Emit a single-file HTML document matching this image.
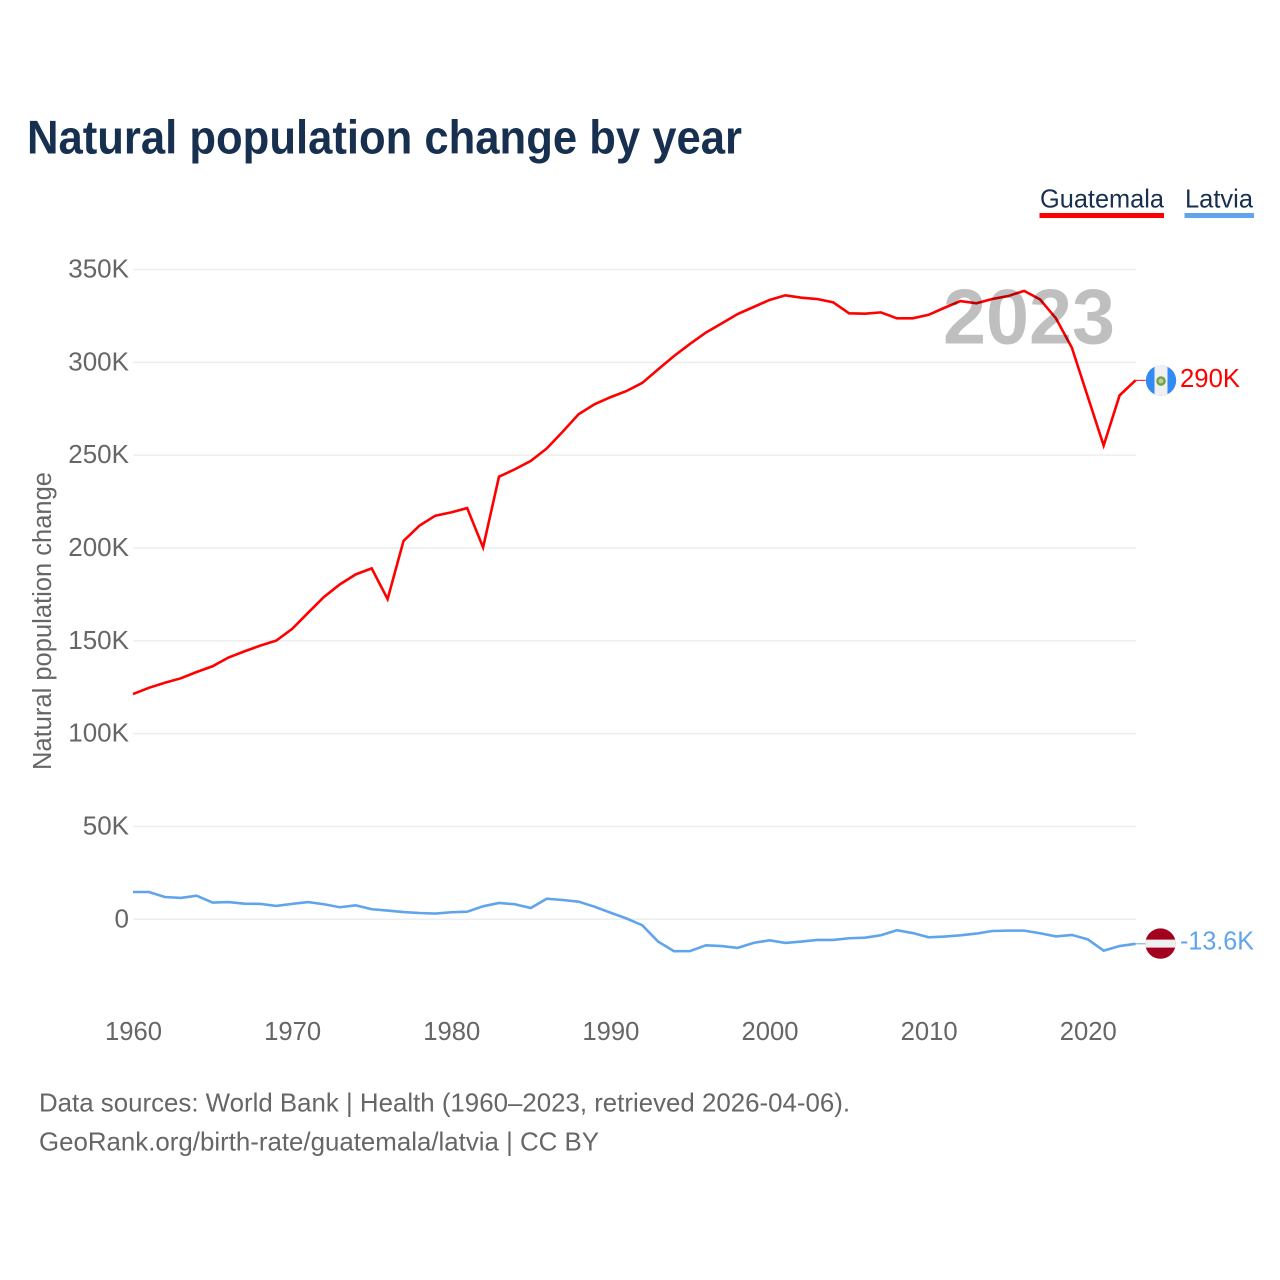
<!DOCTYPE html>
<html lang="en">
<head>
<meta charset="utf-8">
<title>Natural population change by year</title>
<style>
html,body{margin:0;padding:0;background:#fff;width:1280px;height:1280px;overflow:hidden}
svg{display:block}
text{font-family:"Liberation Sans",sans-serif}
</style>
</head>
<body>
<svg id="chart" xmlns="http://www.w3.org/2000/svg" width="1280" height="1280" viewBox="0 0 1280 1280">
  <rect width="1280" height="1280" fill="#fff"/>
  <defs>
    <clipPath id="clip-gt"><circle id="clip-gt-circle" r="15.2"/></clipPath>
    <clipPath id="clip-lv"><circle id="clip-lv-circle" r="15.2"/></clipPath>
  </defs>
  <text x="27" y="153.5" font-size="47" font-weight="700" fill="#18304f" textLength="715" lengthAdjust="spacingAndGlyphs">Natural population change by year</text>

  <g>
    <text x="1040" y="207.5" font-size="26" fill="#18304f" textLength="124" lengthAdjust="spacingAndGlyphs">Guatemala</text>
    <rect x="1039.5" y="213" width="124.5" height="5" fill="#ff0000"/>
  </g>
  <g>
    <text x="1185" y="207.5" font-size="26" fill="#18304f" textLength="68" lengthAdjust="spacingAndGlyphs">Latvia</text>
    <rect x="1184.5" y="213" width="69.5" height="5" fill="#60a5ec"/>
  </g>

  <g id="grid"></g>
  <g id="yticks"></g>
  <g id="xticks"></g>
  <text transform="translate(51,621) rotate(-90)" text-anchor="middle" font-size="25.5" fill="#666" textLength="298" lengthAdjust="spacingAndGlyphs">Natural population change</text>

  <g id="series"></g>
  <g id="flags"></g>

  <text x="943" y="343.5" font-size="78" font-weight="700" fill="#000" fill-opacity="0.25" textLength="172" lengthAdjust="spacingAndGlyphs">2023</text>

  <text x="39" y="1111.5" font-size="26" fill="#666" textLength="811" lengthAdjust="spacingAndGlyphs">Data sources: World Bank | Health (1960–2023, retrieved 2026-04-06).</text>
  <text x="39" y="1150.5" font-size="26" fill="#666" textLength="560" lengthAdjust="spacingAndGlyphs">GeoRank.org/birth-rate/guatemala/latvia | CC BY</text>
</svg>
<script>
const firstYear = 1960;
const lastYear = 2023;
const xTickYears = [1960, 1970, 1980, 1990, 2000, 2010, 2020];
const yTickValues = [0, 50, 100, 150, 200, 250, 300, 350];
const yTickLabels = ["0", "50K", "100K", "150K", "200K", "250K", "300K", "350K"];
// Values in thousands, one per year from 1960 to 2023.
const guatemala = [
  121.3,124.7,127.4,129.8,133.2,136.3,141.0,144.3,147.4,150.1,
  156.4,165.1,173.6,180.4,185.8,189.0,172.5,203.8,212.0,217.4,
  219.2,221.5,200.3,238.4,242.4,246.9,253.6,262.6,272.0,277.4,
  281.2,284.5,288.9,296.2,303.4,309.9,316.0,321.0,326.0,329.8,
  333.6,336.1,334.8,334.1,332.3,326.4,326.2,326.9,323.7,323.7,
  325.6,329.4,333.0,331.8,334.1,335.7,338.5,333.9,323.7,307.9,
  281.5,255.2,282.2,290.3
];
const latvia = [
  14.7,14.7,12.0,11.5,12.7,9.0,9.3,8.4,8.3,7.2,
  8.3,9.3,8.1,6.5,7.5,5.4,4.7,3.9,3.4,3.1,
  3.8,4.1,7.0,8.8,8.1,6.1,11.1,10.4,9.5,6.8,
  3.6,0.5,-3.2,-12.0,-17.2,-17.1,-14.0,-14.4,-15.4,-12.7,
  -11.3,-12.7,-12.0,-11.1,-11.1,-10.2,-9.9,-8.6,-5.9,-7.4,
  -9.7,-9.3,-8.6,-7.7,-6.3,-6.1,-6.1,-7.5,-9.2,-8.4,
  -10.8,-16.9,-14.4,-13.2
];
const guatemalaEndLabel = "290K";
const latviaEndLabel = "-13.6K";

const NS = "http://www.w3.org/2000/svg";
const plot = { left: 133, right: 1135.5, zeroY: 919.3, topY: 269.5, topValue: 350 };
function xScale(year) {
  return plot.left + (year - firstYear) * (plot.right - plot.left) / (lastYear - firstYear);
}
function yScale(value) {
  return plot.zeroY - value * (plot.zeroY - plot.topY) / plot.topValue;
}
function make(tag, attrs, parent) {
  const el = document.createElementNS(NS, tag);
  for (const k in attrs) el.setAttribute(k, attrs[k]);
  parent.appendChild(el);
  return el;
}
const gridG = document.getElementById("grid");
const yG = document.getElementById("yticks");
const xG = document.getElementById("xticks");
const seriesG = document.getElementById("series");
const flagsG = document.getElementById("flags");

yTickValues.forEach(function (v, i) {
  const line = make("line", { x1: plot.left, x2: plot.right + 0.5, y1: yScale(v), y2: yScale(v), stroke: "#eeeeee", "stroke-width": 1.5 }, gridG);
  
  
  const t = make("text", { x: 129, y: yScale(v) + 8, "text-anchor": "end", "font-size": 26, fill: "#666" }, yG);
  
  
  t.textContent = yTickLabels[i];
});
xTickYears.forEach(function (yr) {
  const t = make("text", { x: xScale(yr) + 0.5, y: 1040, "text-anchor": "middle", "font-size": 26, fill: "#666", textLength: 57, lengthAdjust: "spacingAndGlyphs" }, xG);
  
  
  t.textContent = String(yr);
});

function pathFor(values) {
  return values.map(function (v, i) {
    return (i ? "L" : "M") + xScale(firstYear + i).toFixed(2) + " " + yScale(v).toFixed(2);
  }).join(" ");
}
const endLineX = plot.right + 10;

const latviaEndY = yScale(latvia[latvia.length - 1]);
const latviaLead = make("line", { x1: plot.right, x2: endLineX, y1: latviaEndY, y2: latviaEndY, stroke: "#60a5ec", "stroke-width": 1 }, seriesG);


const latviaLine = make("path", { d: pathFor(latvia), fill: "none", stroke: "#60a5ec", "stroke-width": 2.6, "stroke-linejoin": "miter" }, seriesG);



const guatemalaEndY = yScale(guatemala[guatemala.length - 1]);
const guatemalaLead = make("line", { x1: plot.right, x2: endLineX, y1: guatemalaEndY, y2: guatemalaEndY, stroke: "#ff0000", "stroke-width": 1 }, seriesG);


const guatemalaLine = make("path", { d: pathFor(guatemala), fill: "none", stroke: "#ff0000", "stroke-width": 2.6, "stroke-linejoin": "miter" }, seriesG);



const flagX = 1161;
// Guatemala flag
const gy = guatemalaEndY + 0.2;
document.getElementById("clip-gt-circle").setAttribute("cx", flagX);
document.getElementById("clip-gt-circle").setAttribute("cy", gy);
const gtFlag = make("g", { "clip-path": "url(#clip-gt)" }, flagsG);


make("rect", { x: flagX - 16, y: gy - 16, width: 32, height: 32, fill: "#338af3" }, gtFlag);
make("rect", { x: flagX - 6.5, y: gy - 16, width: 13, height: 32, fill: "#f0f0f0" }, gtFlag);
make("circle", { cx: flagX, cy: gy + 0.5, r: 3.6, fill: "#c9c9a0", stroke: "#6da544", "stroke-width": 2.4 }, gtFlag);
const gtLabel = make("text", { x: 1180, y: guatemalaEndY + 6.7, "font-size": 26, fill: "#ff0000", textLength: 60, lengthAdjust: "spacingAndGlyphs" }, flagsG);


gtLabel.textContent = guatemalaEndLabel;

// Latvia flag
const ly = latviaEndY - 0.2;
document.getElementById("clip-lv-circle").setAttribute("cx", flagX - 0.5);
document.getElementById("clip-lv-circle").setAttribute("cy", ly);
const lvFlag = make("g", { "clip-path": "url(#clip-lv)" }, flagsG);


make("rect", { x: flagX - 17, y: ly - 16, width: 32, height: 32, fill: "#a2001d" }, lvFlag);
make("rect", { x: flagX - 17, y: ly - 4, width: 32, height: 8, fill: "#f0f0f0" }, lvFlag);
const lvLabel = make("text", { x: 1180, y: latviaEndY + 5.5, "font-size": 26, fill: "#60a5ec", textLength: 74, lengthAdjust: "spacingAndGlyphs" }, flagsG);


lvLabel.textContent = latviaEndLabel;
</script>
</body>
</html>
